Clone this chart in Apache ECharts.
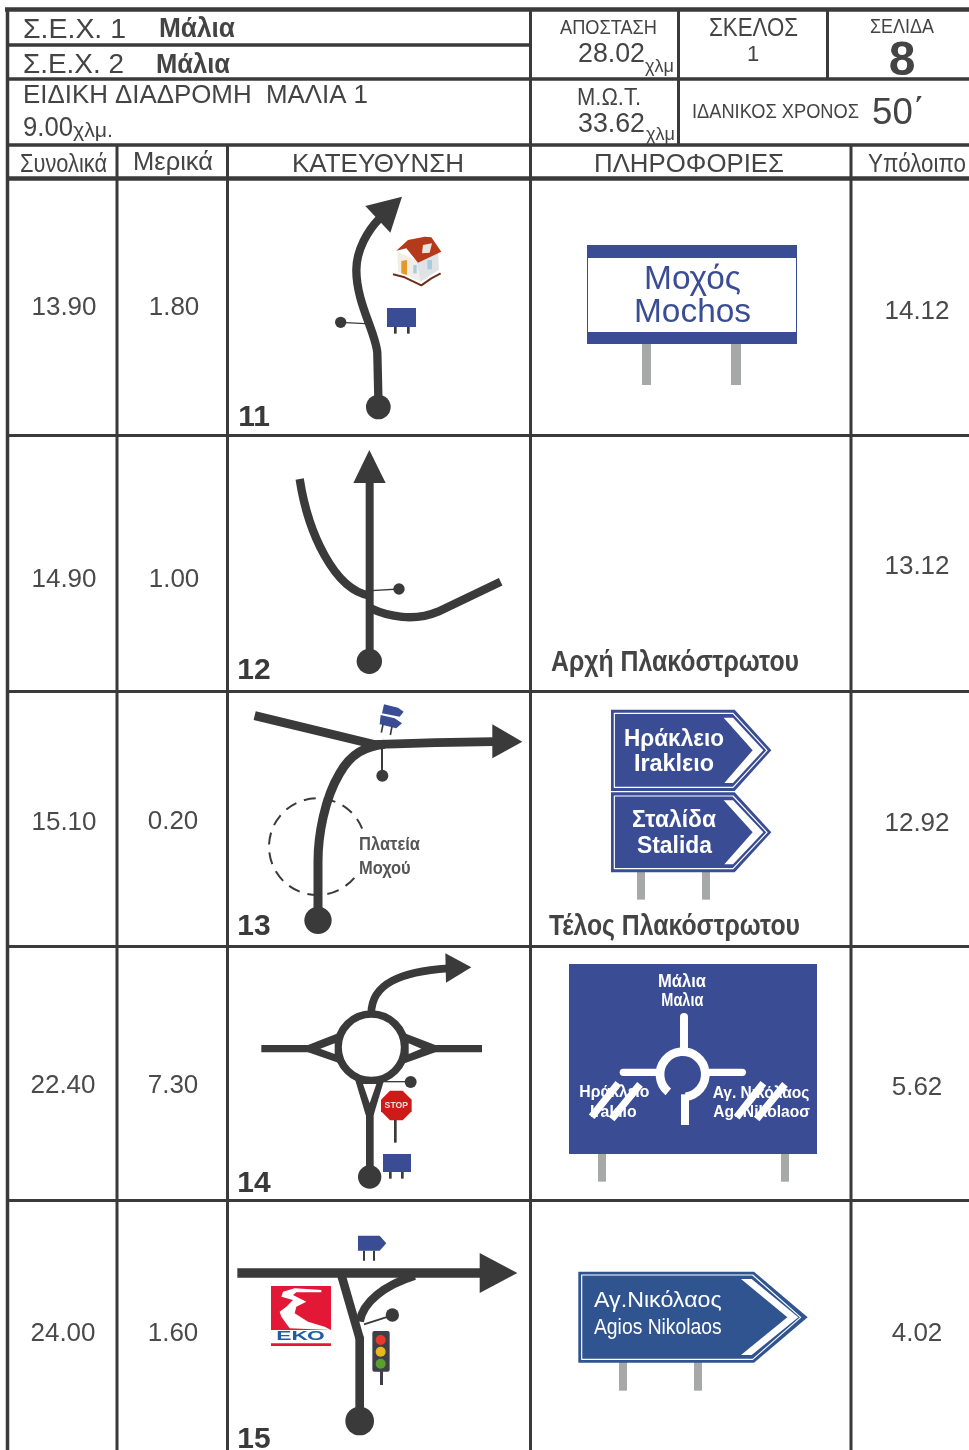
<!DOCTYPE html>
<html><head><meta charset="utf-8">
<style>html,body{margin:0;padding:0;background:#fff}#c{width:969px;height:1450px}</style>
<script src="https://cdn.jsdelivr.net/npm/echarts@6/dist/echarts.min.js"></script>
</head><body><div id="c"></div>
<script>
// ---- table values ----
const totals = ['13.90','14.90','15.10','22.40','24.00'];
const partials = ['1.80','1.00','0.20','7.30','1.60'];
const remaining = ['14.12','13.12','12.92','5.62','4.02'];
const stepNumbers = ['11','12','13','14','15'];
const columnHeaders = ['Συνολικά','Μερικά','ΚΑΤΕΥΘΥΝΣΗ','ΠΛΗΡΟΦΟΡΙΕΣ','Υπόλοιπο'];
// ---- layout of the value columns ----
const totalX=[64,64,64,63,63], totalY=[306,578,821,1084,1332];
const partialX=[174,174,173,173,173], partialY=[306,578,820,1084,1332];
const remainX=[917,917,917,917,917], remainY=[310,565,822,1086,1332];
const stepY=[416,669,925,1182,1438];

const DARK='#3a3a3a', INK='#444', BLUE='#3a4d94', BLUE2='#2f5490', GREY='#a7a9a9', FONT='"Liberation Sans"';
const ctx=document.createElement('canvas').getContext('2d');
const DY=0.07; // the reference glyphs sit slightly lower than canvas "middle"
function T(s,left,width,cy,size,o){ o=o||{};
  const w=o.weight||'normal';
  ctx.font=w+' '+size+'px '+FONT;
  const m=ctx.measureText(s).width;
  return {type:'text',x:left,y:cy+size*DY,scaleX:width/m,style:{text:s,fontFamily:FONT,fontSize:size,fontWeight:w,fill:o.fill||INK,align:'left',verticalAlign:'middle'}};
}
function C(s,cx,cy,size,o){ o=o||{};
  return {type:'text',x:cx,y:cy+size*DY,style:{text:s,fontFamily:FONT,fontSize:size,fontWeight:o.weight||'normal',fill:o.fill||INK,align:'center',verticalAlign:'middle'}};
}
const S=(d,w,c,cap)=>({type:'path',shape:{pathData:d},style:{fill:'none',stroke:c||DARK,lineWidth:w,lineCap:cap||'butt',lineJoin:'round'}});
const F=(d,c)=>({type:'path',shape:{pathData:d},style:{fill:c||DARK}});
const D=(x,y,r,c)=>({type:'circle',shape:{cx:x,cy:y,r:r},style:{fill:c||DARK}});
const R=(x0,y0,x1,y1,c)=>({type:'rect',shape:{x:x0,y:y0,width:x1-x0,height:y1-y0},style:{fill:c||DARK}});
const Z=(api,ox,oy,children)=>{const p=api.coord([ox,oy]);return {type:'group',x:p[0],y:p[1],scaleX:1/3,scaleY:1/3,children:children};};

const gridLines=[
 // x0,y0,x1,y1,w
 [5,9.5,969,9.5,4.5],[8,45,530,45,3.5],[8,79,969,79,3.5],[8,145,969,145,3.5],[8,178.5,969,178.5,4.5],
 [8,435.5,969,435.5,3],[8,691.5,969,691.5,3],[8,946.5,969,946.5,3],[8,1200.5,969,1200.5,3],
 [7.5,8,7.5,1450,3.5],[530.5,8,530.5,1450,3],[678.5,8,678.5,146,3],[827.5,8,827.5,79,3],
 [117,146,117,1450,3],[227.5,146,227.5,1450,3],[851,146,851,1450,3]
];

function chevronSign(top,bot,tipX,fill){ // in zoom units
  const mid=(top+bot)/2;
  return [
   F(`M237 ${top}L608 ${top}L718 ${mid}L608 ${bot}L237 ${bot}Z`,fill),
   S(`M247 ${top+11}L603 ${top+11}L705 ${mid}L603 ${bot-11}L247 ${bot-11}Z`,3.5,'#fff'),
   F(`M575 ${top+24}L603 ${top+24}L694 ${mid}L603 ${bot-24}L577 ${bot-24}L662 ${mid}Z`,'#fff')
  ];
}

const drawForm=(params,api)=>{
 const ch=[];
 gridLines.forEach(l=>{const a=api.coord([l[0],l[1]]),b=api.coord([l[2],l[3]]);
   ch.push({type:'line',shape:{x1:a[0],y1:a[1],x2:b[0],y2:b[1]},style:{stroke:DARK,lineWidth:l[4]}});});
 // header
 ch.push(
  T('Σ.Ε.Χ. 1',23,103,28,28), T('Μάλια',159,76,28,27,{weight:'bold'}),
  T('Σ.Ε.Χ. 2',23,101,63,28), T('Μάλια',156,74,64,27,{weight:'bold'}),
  T('ΕΙΔΙΚΗ ΔΙΑΔΡΟΜΗ  ΜΑΛΙΑ 1',23,345,94,26),
  T('9.00',23,50,127,27), T('χλμ.',73,40,130,21),
  T('ΑΠΟΣΤΑΣΗ',560,97,27,20), T('28.02',578,67,52,28), T('χλμ',645,29,66,18),
  T('ΣΚΕΛΟΣ',709,89,27,25), C('1',753,53,22),
  T('ΣΕΛΙΔΑ',870,64,26,20), C('8',902,58,48,{weight:'bold'}),
  T('Μ.Ω.Τ.',577,64,97,24), T('33.62',578,67,122,28), T('χλμ',646,29,134,18),
  T('ΙΔΑΝΙΚΟΣ ΧΡΟΝΟΣ',692,167,111,20), T('50΄',872,53,111,37),
  T(columnHeaders[0],20,87,163,25), T(columnHeaders[1],133,80,161,25), T(columnHeaders[2],292,172,163,26),
  T(columnHeaders[3],594,190,163,26), T(columnHeaders[4],868,98,163,25)
 );
 const legs=(a,b,y0,y1,w)=>[R(a,y0,a+w,y1),R(b,y0,b+w,y1)];
 // 11 road
 ch.push(Z(api,228,180,[
  S('M451 650L448 520C445 460 385 370 385 270C385 210 420 150 455 115',25),
  F('M522 50L412 78L487 158Z'), D(451,681,37),
  S('M338 427L412 431',4), D(338,427,17),
  R(477,384,564,441,BLUE), ...legs(498,537,441,461,8),
  // house
  S('M495 283L530 292L580 316L610 295L638 280',6,'#6e2f1c'),
  F('M508 215L565 240L630 212L632 270L580 305L510 275Z','#f1eee8'),
  F('M565 240L630 212L632 270L578 303Z','#dfe3e6'),
  F('M520 243L537 240L537 285L520 280Z','#e39a2a'),
  R(556,255,566,280,'#a9cbe0'),R(598,240,612,268,'#a9cbe0'),
  F('M505 212L540 180L590 170L610 172L640 215L570 248L535 205Z','#b53a1b'),
  F('M585 195L612 190L605 218L582 220Z','#e9e6e0'),
 ]));
 // 12 road
 ch.push(Z(api,228,180,[
  S('M215 897C240 1060 320 1230 425 1247',25),
  S('M428 1285C480 1310 560 1325 630 1295L818 1205',25),
  R(413,905,437,1444), F('M424 810L376 909L473 909Z'), D(424,1444,38),
  S('M430 1232L513 1227',4), D(513,1227,17),
 ]));
 // 13 road
 ch.push(Z(api,228,695,[
  {type:'arc',shape:{cx:268,cy:455,r:145,startAngle:0.7,endAngle:5.9,clockwise:true},style:{fill:'none',stroke:DARK,lineWidth:6,lineDash:[36,24]}},
  S('M80 62L445 150',27),
  S('M430 149C520 146 650 142 795 140',26),
  F('M883 140L793 88L793 190Z'),
  S('M270 650L270 500C270 420 290 310 335 235C370 175 410 155 470 148',27),
  D(270,676,41),
  S('M462 160L462 240',6), D(463,242,18),
  F('M468 28L510 38L527 50L515 65L462 55Z',BLUE), F('M458 60L500 70L522 85L505 100L455 88Z',BLUE),
  S('M465 88L460 113M492 94L487 120',5),
  T('Πλατεία',393,183,445,56,{weight:'bold',fill:'#555'}),
  T('Μοχού',393,155,519,56,{weight:'bold',fill:'#555'}),
 ]));
 // 14 road
 ch.push(Z(api,228,950,[
  S('M430 190C430 100 520 65 660 55',23), F('M730 52L652 10L654 98Z'),
  S('M100 296L250 296M615 296L762 296',22),
  F('M240 285L330 250L335 340L240 307Z'), F('M622 285L530 250L530 340L622 307Z'),
  F('M380 385L470 385L437 495L413 495Z'),
  {type:'circle',shape:{cx:430,cy:292,r:100},style:{fill:'#fff',stroke:DARK,lineWidth:23}},
  F('M277 296L320 280L320 312Z','#fff'), F('M580 296L542 280L542 312Z','#fff'),
  F('M405 402L445 402L425 460Z','#fff'),
  R(414,488,437,681), D(425,681,35),
  S('M470 395L548 395',4), D(548,396,18),
  F('M486 422L524 422L551 449L551 484L524 511L486 511L459 484L459 449Z','#cf1a1a'),
  C('STOP',505,466,26,{weight:'bold',fill:'#f3dede'}),
  R(498,510,506,578),
  R(465,612,549,666,BLUE), ...legs(483,519,666,686,8),
 ]));
 // 15 road
 ch.push(Z(api,228,1205,[
  S('M28 204L760 204',28), F('M868 204L755 144L755 264Z'),
  S('M340 210L395 400',26),
  S('M395 350C405 290 470 240 560 212',25),
  R(382,395,408,640), D(395,648,43),
  S('M408 358L490 332',6), D(493,330,20),
  F('M390 92L455 92L475 115L455 137L390 137Z',BLUE), ...legs(405,435,137,167,6),
  R(129,243,309,375,'#e31837'),
  F('M280 255L200 250L165 260L160 275L195 285L175 305L155 320L160 335L185 370L309 375L290 365L240 350L200 325L205 305L235 290L195 270L205 262L280 262Z','#fff'),
  T('ΕΚΟ',145,145,394,36,{weight:'bold',fill:'#1f5fa0'}),
  R(129,415,309,423,'#e31837'),
  R(456,498,465,540,'#3f3f4a'),
  {type:'rect',shape:{x:433,y:378,width:52,height:122,r:6},style:{fill:'#3f3f4a'}},
  D(458,405,15,'#e8392a'),D(458,440,15,'#e8b81f'),D(458,476,15,'#5aa02c'),
 ]));
 // info: sign 11 (pixels)
 const p0=api.coord([0,0]);
 ch.push({type:'group',x:p0[0],y:p0[1],children:[
  R(642,344,651,385,GREY),R(731,344,741,385,GREY),
  R(587,245,797,344,BLUE),R(588,258,796,332,'#fff'),
  T('Μοχός',644,97,278,33,{fill:BLUE}),T('Mochos',634,117,311,33,{fill:BLUE}),
  T('Αρχή Πλακόστρωτου',551,248,661,30,{weight:'bold'}),
  T('Τέλος Πλακόστρωτου',549,251,925,30,{weight:'bold'}),
 ]});
 // sign 13
 ch.push(Z(api,532,695,[
  R(315,530,339,614,GREY),R(510,530,534,614,GREY),
  ...chevronSign(44,288,718,BLUE),...chevronSign(292,532,718,BLUE),
  T('Ηράκλειο',276,300,127,72,{weight:'bold',fill:'#fff'}),
  T('Iraklειο',306,240,202,72,{weight:'bold',fill:'#fff'}),
  T('Σταλίδα',300,252,371,72,{weight:'bold',fill:'#fff'}),
  T('Stalida',315,225,449,72,{weight:'bold',fill:'#fff'}),
 ]));
 // sign 14
 ch.push(Z(api,550,955,[
  R(144,597,168,680,GREY),R(693,597,717,680,GREY),
  R(57,27,801,597,BLUE),
  T('Μάλια',324,144,76,54,{weight:'bold',fill:'#fff'}),
  T('Μαλια',334,126,134,54,{weight:'bold',fill:'#fff'}),
  T('Ηράκλειο',88,210,407,52,{weight:'bold',fill:'#fff'}),
  T('Iraklio',120,140,467,52,{weight:'bold',fill:'#fff'}),
  T('Αγ. Νικόλαος',488,290,410,52,{weight:'bold',fill:'#fff'}),
  T('Ag. Nikolaoσ',490,290,468,52,{weight:'bold',fill:'#fff'}),
  S('M402 186L402 285',24,'#fff','round'),S('M220 352L325 352',22,'#fff','round'),S('M472 352L577 352',22,'#fff','round'),
  {type:'arc',shape:{cx:398,cy:358,r:68,startAngle:2.26,endAngle:7.72,clockwise:true},style:{fill:'none',stroke:'#fff',lineWidth:26}},
  R(393,418,417,510,'#fff'),
  S('M205 385L125 485M270 388L185 492M640 385L560 487M705 388L620 492',22,'#fff'),
 ]));
 // sign 15
 ch.push(Z(api,550,1250,[
  R(207,336,231,422,GREY),R(432,336,456,422,GREY),
  F('M85 65L612 65L773 202L612 338L85 338Z',BLUE2),
  S('M95 75L608 75L752 202L608 328L95 328Z',3.5,'#fff'),
  F('M573 87L605 87L745 202L605 315L573 315L712 202Z','#fff'),
  T('Αγ.Νικόλαος',132,383,148,68,{fill:'#fff'}),
  T('Agios Nikolaos',132,383,228,68,{fill:'#fff'}),
 ]));
 return {type:'group',children:ch};
};

const cell=(fn)=>(params,api)=>{const p=api.coord([api.value(0),api.value(1)]);return fn(p,params.dataIndex);};
const column=(name,xs,ys,labels,size,weight,fill)=>({
  type:'custom',name:name,coordinateSystem:'cartesian2d',silent:true,clip:false,animation:false,
  data:labels.map((_,i)=>[xs[i],ys[i]]),
  renderItem:cell((p,i)=>({type:'text',x:p[0],y:p[1]+size*DY,style:{text:labels[i],fontFamily:FONT,fontSize:size,fontWeight:weight,fill:fill,align:'center',verticalAlign:'middle'}}))
});

const chart=echarts.init(document.getElementById('c'),null,{renderer:'canvas'});
chart.setOption({
 animation:false,backgroundColor:'#fff',
 grid:{left:0,right:0,top:0,bottom:0},
 xAxis:{type:'value',min:0,max:969,show:false},
 yAxis:{type:'value',min:0,max:1450,inverse:true,show:false},
 series:[
  {type:'custom',name:'form',coordinateSystem:'cartesian2d',silent:true,clip:false,animation:false,data:[[0,0]],renderItem:drawForm},
  column('Συνολικά',totalX,totalY,totals,26,'normal','#4a4a4a'),
  column('Μερικά',partialX,partialY,partials,26,'normal','#4a4a4a'),
  column('Υπόλοιπο',remainX,remainY,remaining,26,'normal','#4a4a4a'),
  column('steps',stepY.map(()=>254),stepY,stepNumbers,30,'bold',DARK)
 ]
});
</script></body></html>
